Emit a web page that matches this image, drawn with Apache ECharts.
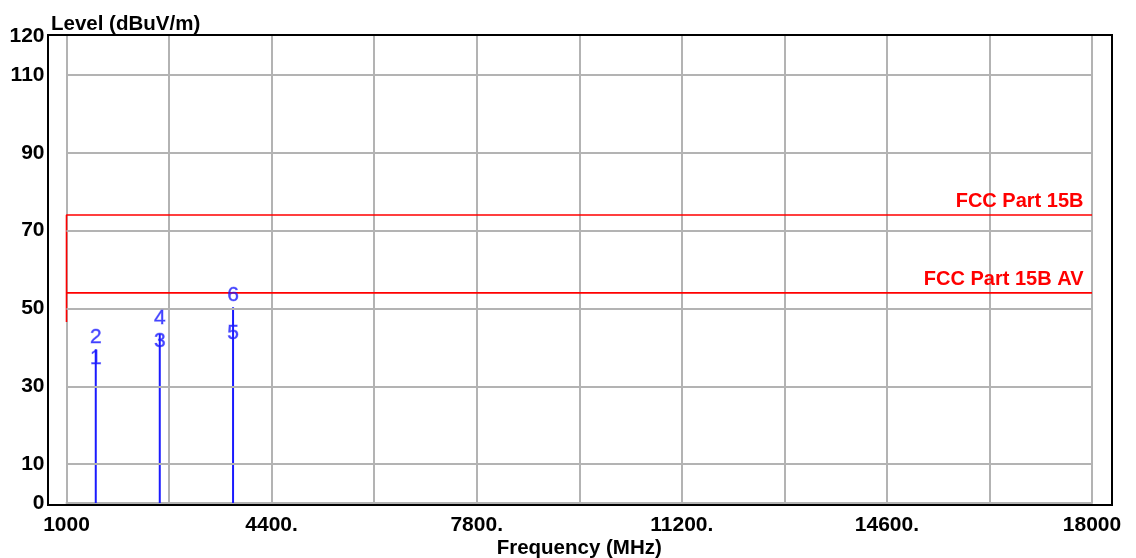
<!DOCTYPE html>
<html><head><meta charset="utf-8">
<script src="https://cdn.jsdelivr.net/npm/echarts@6/dist/echarts.min.js"></script>
<style>html,body{margin:0;padding:0;background:#fff}#c{width:1136px;height:558px}</style>
</head><body><div id="c"></div>
<script>
// ---- data ----
const xMin = 1000, xMax = 18000, xStep = 1700;        // vertical grid every 1700 MHz
const xLabelStep = 3400;                                // labels every 3400 MHz
const yMin = 0, yMax = 120;
const yLabelValues = [0, 10, 30, 50, 70, 90, 110, 120];
const yGridValues = [10, 30, 50, 70, 90, 110];

const traceFreq  = [1485, 2546, 3761];
const traceLevel = [39.5, 43.4, 50.3];

const markerNo    = ['1', '2', '3', '4', '5', '6'];
const markerFreq  = [1485, 1485, 2546, 2546, 3761, 3761];
const markerLevel = [35.1, 40.5, 39.5, 45.5, 41.6, 51.4];

const limitNames = ['FCC Part 15B', 'FCC Part 15B AV'];
const limitPeakFreq  = [1000, 1000, 18000];
const limitPeakLevel = [54, 74, 74];
const limitAvFreq    = [1000, 1000, 18000];
const limitAvLevel   = [46.5, 54, 54];

const yTitle = 'Level (dBuV/m)';
const xTitle = 'Frequency (MHz)';

// ---- chart ----
const FONT = '"Liberation Sans", Arial, sans-serif';
const GRID_GREY = '#b3b3b3';
const RED = '#ff0000';
const BLUE = '#1a1aff';

const zip = (a, b) => a.map((v, i) => [v, b[i]]);
function limitData(fr, lv, name) {
  const d = zip(fr, lv).map(p => ({ value: p, label: { show: false } }));
  d[d.length - 1].label = {
    show: true, formatter: name, position: [-8, -3], align: 'right', verticalAlign: 'bottom',
    color: RED, fontFamily: FONT, fontWeight: 'bold', fontSize: 20
  };
  return d;
}

const chart = echarts.init(document.getElementById('c'), null, { renderer: 'canvas' });
chart.setOption({
  animation: false,
  backgroundColor: '#fff',
  title: [{
    text: yTitle, left: 46, top: 9,
    textStyle: { fontFamily: FONT, fontWeight: 'bold', fontSize: 20.5, color: '#000' }
  }],
  grid: [
    { left: 66.5, right: 44, top: 36, bottom: 55, show: false, outerBoundsMode: 'none', containLabel: false },
    { left: 48, right: 24, top: 35, bottom: 53, show: true, borderColor: '#000', borderWidth: 2,
      backgroundColor: 'transparent', outerBoundsMode: 'none', containLabel: false }
  ],
  xAxis: [
    {
      type: 'value', gridIndex: 0, min: xMin, max: xMax, interval: xStep,
      name: xTitle, nameLocation: 'middle', nameGap: 35, nameMoveOverlap: false,
      nameTextStyle: { fontFamily: FONT, fontWeight: 'bold', fontSize: 20.5, color: '#000' },
      axisLine: { show: true, onZero: false, lineStyle: { color: GRID_GREY, width: 2 } },
      axisTick: { show: false },
      splitLine: { show: true, lineStyle: { color: GRID_GREY, width: 2 } },
      axisLabel: {
        margin: 12, color: '#000', fontFamily: FONT, fontWeight: 'bold', fontSize: 21,
        formatter: v => ((v - xMin) % xLabelStep === 0) ? ((v === xMin || v === xMax) ? String(v) : v + '.') : ''
      }
    },
    { type: 'value', gridIndex: 1, show: false, min: 0, max: 1, splitLine: { show: false } }
  ],
  yAxis: [
    {
      type: 'value', gridIndex: 0, min: yMin, max: yMax, interval: 10,
      axisLine: { show: false }, axisTick: { show: false }, splitLine: { show: false },
      axisLabel: {
        margin: 22, color: '#000', fontFamily: FONT, fontWeight: 'bold', fontSize: 21,
        formatter: v => yLabelValues.includes(v) ? String(v) : ''
      }
    },
    { type: 'value', gridIndex: 1, show: false, min: 0, max: 1, splitLine: { show: false } }
  ],
  series: [
    {
      type: 'line', xAxisIndex: 0, yAxisIndex: 0, data: [], silent: true,
      markLine: {
        silent: true, symbol: ['none', 'none'], label: { show: false },
        lineStyle: { color: GRID_GREY, width: 2, type: 'solid' },
        emphasis: { disabled: true },
        data: yGridValues.map(v => ({ yAxis: v }))
      }
    },
    {
      name: limitNames[0], type: 'line', xAxisIndex: 0, yAxisIndex: 0,
      symbol: 'circle', symbolSize: 1, showSymbol: true, itemStyle: { color: 'rgba(0,0,0,0)' },
      lineStyle: { color: RED, width: 1.6 }, z: 3, labelLayout: { hideOverlap: false },
      data: limitData(limitPeakFreq, limitPeakLevel, limitNames[0])
    },
    {
      name: limitNames[1], type: 'line', xAxisIndex: 0, yAxisIndex: 0,
      symbol: 'circle', symbolSize: 1, showSymbol: true, itemStyle: { color: 'rgba(0,0,0,0)' },
      lineStyle: { color: RED, width: 1.6 }, z: 3, labelLayout: { hideOverlap: false },
      data: limitData(limitAvFreq, limitAvLevel, limitNames[1])
    },
    {
      type: 'bar', xAxisIndex: 0, yAxisIndex: 0, barWidth: 2, z: 4,
      itemStyle: { color: BLUE },
      data: zip(traceFreq, traceLevel)
    },
    {
      type: 'scatter', xAxisIndex: 0, yAxisIndex: 0, symbol: 'circle', symbolSize: 1, z: 5,
      itemStyle: { color: 'rgba(0,0,0,0)' },
      label: {
        show: true, position: 'top', distance: -3,
        formatter: p => markerNo[p.dataIndex],
        color: BLUE, fontFamily: FONT, fontSize: 21, textBorderColor: 'rgba(30,30,255,0.5)', textBorderWidth: 0.8
      },
      data: zip(markerFreq, markerLevel)
    }
  ]
});
</script>
</body></html>
